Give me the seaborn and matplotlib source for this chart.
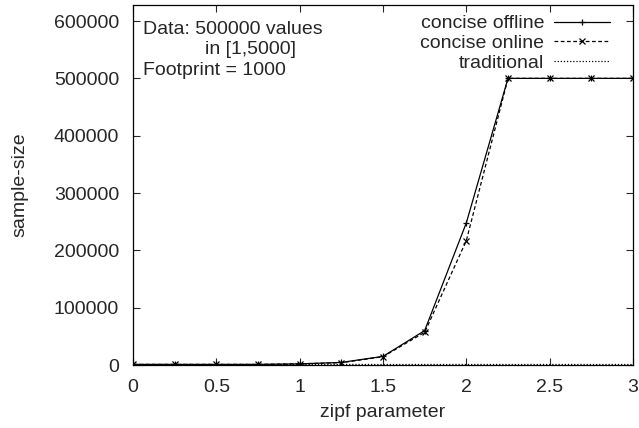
import matplotlib
matplotlib.use("Agg")
import matplotlib.pyplot as plt
import matplotlib.ticker as mticker
import seaborn as sns
import pandas as pd

# zipf parameter values
zipf = [0, 0.25, 0.5, 0.75, 1.0, 1.25, 1.5, 1.75, 2.0, 2.25, 2.5, 2.75, 3.0]
# sample sizes
concise_offline = [1000, 1000, 1000, 1000, 2000, 4500, 15000, 60000, 248000, 500000, 500000, 500000, 500000]
concise_online = [1000, 1000, 1000, 1000, 2000, 4000, 14500, 57000, 217000, 500000, 500000, 500000, 500000]
traditional = [1000] * len(zipf)

series = ['concise offline', 'concise online', 'traditional']

df = pd.concat([
    pd.DataFrame({'zipf': zipf, 'size': concise_offline, 'series': series[0]}),
    pd.DataFrame({'zipf': zipf, 'size': concise_online, 'series': series[1]}),
    pd.DataFrame({'zipf': zipf, 'size': traditional, 'series': series[2]}),
])

sns.set_style("ticks")
plt.rcParams['font.family'] = ['Liberation Sans', 'DejaVu Sans']

fig = plt.figure(figsize=(6.39, 4.28), dpi=100)
ax = fig.add_axes([133 / 639, 1 - 365 / 428, 500 / 639, 360 / 428])

styles = {
    'concise offline': dict(ls='-', marker='+'),
    'concise online': dict(ls=(0, (3, 2)), marker='x'),
    'traditional': dict(ls=(0, (1, 1.5)), marker=None),
}
for name in series:
    st = styles[name]
    sns.lineplot(data=df[df['series'] == name], x='zipf', y='size', ax=ax,
                 color='black', lw=0.9, linestyle=st['ls'], marker=st['marker'],
                 markersize=5, markeredgewidth=0.9, markeredgecolor='black',
                 label=name)

ax.set_xlim(0, 3)
ax.set_ylim(0, 628000)
ax.set_xticks([0, 0.5, 1, 1.5, 2, 2.5, 3])
ax.xaxis.set_major_formatter(mticker.FuncFormatter(lambda v, p: f'{v:g}'))
ax.set_yticks(range(0, 600001, 100000))
ax.yaxis.set_major_formatter(mticker.FuncFormatter(lambda v, p: f'{int(v)}'))
ax.tick_params(direction='in', length=5, width=0.8, labelsize=14, top=True, right=True)
ax.tick_params(axis='x', pad=10)
ax.tick_params(axis='y', pad=10)
for s in ax.spines.values():
    s.set_linewidth(0.9)
    s.set_color('black')

ax.set_xlabel('zipf parameter', fontsize=14, labelpad=6)
ax.set_ylabel('sample-size', fontsize=14, labelpad=18)

leg = ax.legend(loc='upper right', frameon=False, markerfirst=False, fontsize=14,
                handlelength=2.9, handletextpad=0.5, labelspacing=0.12,
                borderaxespad=0.1, bbox_to_anchor=(0.974, 1.0))

ax.text(0.02, 0.931, 'Data: 500000 values', transform=ax.transAxes, fontsize=14, va='center')
ax.text(0.144, 0.875, 'in [1,5000]', transform=ax.transAxes, fontsize=14, va='center')
ax.text(0.02, 0.819, 'Footprint = 1000', transform=ax.transAxes, fontsize=14, va='center')

fig.savefig('out.png', dpi=100)
